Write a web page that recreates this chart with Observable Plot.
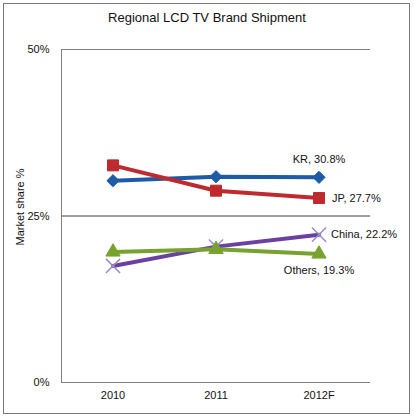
<!DOCTYPE html>
<html>
<head>
<meta charset="utf-8">
<script src="https://cdn.jsdelivr.net/npm/d3@7"></script>
<script src="https://cdn.jsdelivr.net/npm/@observablehq/plot@0.6"></script>
<style>
  html, body { margin: 0; padding: 0; background: #fff; }
  #wrap { position: relative; width: 414px; height: 418px; font-family: "Liberation Sans", Arial, sans-serif; }
  #border { position: absolute; left: 3px; top: 3px; width: 405px; height: 409px; border: 1.5px solid #7a7a7a; }
  #title { position: absolute; left: 0; top: 10px; width: 414px; text-align: center; font-size: 13px; color: #111; }
  #chart { position: absolute; left: 0; top: 0; }
</style>
</head>
<body>
<div id="wrap">
  <div id="chart"></div>
  <div id="border"></div>
  <div id="title">Regional LCD TV Brand Shipment</div>
</div>
<script>
const years = ["2010", "2011", "2012F"];
const kr = [30.3, 30.9, 30.8];
const jp = [32.6, 28.8, 27.7];
const china = [17.5, 20.4, 22.2];
const others = [19.6, 20.0, 19.3];
const yTicks = [0, 25, 50];

const series = [
  {name: "KR", values: kr, color: "#1f5aa6", symbol: "diamond2", r: 5.5},
  {name: "JP", values: jp, color: "#bf2a2e", symbol: "square", r: 6.2},
  {name: "China", values: china, color: "#6a40a0", symbol: "times", r: 6.5},
  {name: "Others", values: others, color: "#78a22f", symbol: "triangle", r: 5.3}
];
const rows = series.flatMap(s => years.map((y, i) => ({series: s.name, year: y, value: s.values[i]})));
const last = series.map(s => ({series: s.name, year: years[years.length - 1], value: s.values[s.values.length - 1]}));
const lab = d => `${d.series}, ${d.value.toFixed(1)}%`;

const marks = [
  Plot.ruleY(yTicks, {stroke: d => d === 25 ? "#3c3c3c" : "#808080", strokeWidth: 1}),
  Plot.frame({anchor: "left", stroke: "#808080"}),
  Plot.axisY({ticks: yTicks, tickFormat: d => d + "%", tickSize: 0, tickPadding: 12, fontSize: 11, label: null}),
  Plot.axisX({tickSize: 0, tickPadding: 9, fontSize: 11, label: null}),
  Plot.text(["Market share %"], {frameAnchor: "left", textAnchor: "middle", rotate: -90, dx: -41, dy: -9, fontSize: 11, fill: "#111"})
];
for (const s of series) {
  marks.push(Plot.line(rows.filter(r => r.series === s.name), {x: "year", y: "value", stroke: s.color, strokeWidth: 4}));
}
for (const s of series) {
  const d = rows.filter(r => r.series === s.name);
  if (s.symbol === "times") {
    marks.push(Plot.dot(d, {x: "year", y: "value", symbol: s.symbol, r: s.r, stroke: "#9a8cc8", strokeWidth: 1.5}));
  } else {
    marks.push(Plot.dot(d, {x: "year", y: "value", symbol: s.symbol, r: s.r, fill: s.color, stroke: s.color, strokeWidth: 1}));
  }
}
const pick = n => last.filter(d => d.series === n);
marks.push(
  Plot.text(pick("KR"), {x: "year", y: "value", text: lab, dy: -18, textAnchor: "middle", fontSize: 11, fill: "#111"}),
  Plot.text(pick("JP"), {x: "year", y: "value", text: lab, dx: 13, textAnchor: "start", fontSize: 11, fill: "#111"}),
  Plot.text(pick("China"), {x: "year", y: "value", text: lab, dx: 12, textAnchor: "start", fontSize: 11, fill: "#111"}),
  Plot.text(pick("Others"), {x: "year", y: "value", text: lab, dy: 17, textAnchor: "middle", fontSize: 11, fill: "#111"})
);

const chart = Plot.plot({
  width: 414,
  height: 418,
  marginLeft: 61,
  marginRight: 44,
  marginTop: 49,
  marginBottom: 36,
  style: {fontFamily: "'Liberation Sans', Arial, sans-serif", background: "transparent", color: "#111"},
  x: {type: "band", domain: years, padding: 0},
  y: {domain: [0, 50]},
  marks
});
document.getElementById("chart").appendChild(chart);
</script>
</body>
</html>
